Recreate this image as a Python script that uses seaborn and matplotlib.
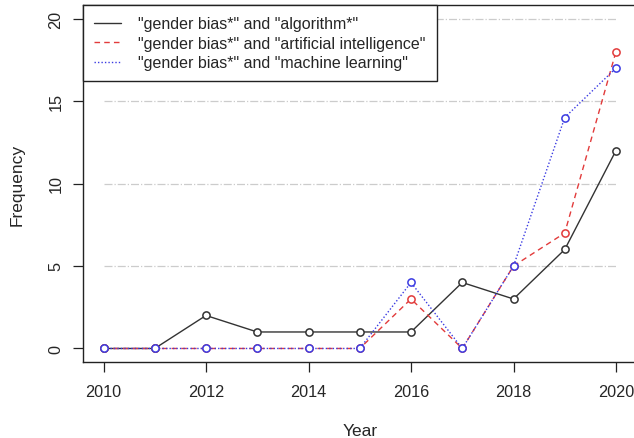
import matplotlib
matplotlib.use("Agg")
import matplotlib.pyplot as plt
from matplotlib.lines import Line2D
import seaborn as sns
import pandas as pd

years = [2010, 2011, 2012, 2013, 2014, 2015, 2016, 2017, 2018, 2019, 2020]
algorithm = [0, 0, 2, 1, 1, 1, 1, 4, 3, 6, 12]
artificial_intelligence = [0, 0, 0, 0, 0, 0, 3, 0, 5, 7, 18]
machine_learning = [0, 0, 0, 0, 0, 0, 4, 0, 5, 14, 17]
labels = ['"gender bias*" and "algorithm*"',
          '"gender bias*" and "artificial intelligence"',
          '"gender bias*" and "machine learning"']
grid_levels = [5, 10, 15, 20]
x_ticks = [2010, 2012, 2014, 2016, 2018, 2020]
y_ticks = [0, 5, 10, 15, 20]

sns.set_style("white")
plt.rcParams['font.family'] = ['Liberation Sans', 'DejaVu Sans']

fig = plt.figure(figsize=(6.34, 4.39), dpi=100)
ax = fig.add_axes([83/634, 1-363/439, (636.5-83)/634, (363-6)/439])

ax.hlines(grid_levels, 2010, 2020, colors='#cccccc', linestyles='dashdot', linewidth=0.9, zorder=0)

series = [algorithm, artificial_intelligence, machine_learning]
colors = ['#333333', '#e23b3b', '#3b3be2']
styles = ['-', (0, (4, 3)), (0, (1, 1.5))]
for vals, col, ls in zip(series, colors, styles):
    df = pd.DataFrame({"Year": years, "Frequency": vals})
    sns.lineplot(data=df, x="Year", y="Frequency", ax=ax, color=col, linestyle=ls,
                 linewidth=1.0, marker='o', markersize=5.2, markerfacecolor='white',
                 markeredgecolor=col, markeredgewidth=1.1, legend=False)

ax.set_xlim(2009.6, 2020.4)
ax.set_ylim(-0.82, 20.82)
ax.set_xticks(x_ticks)
ax.set_yticks(y_ticks)
ax.set_yticklabels([str(v) for v in y_ticks], rotation=90, va='center')
ax.tick_params(axis='both', direction='out', length=7, width=0.9, color='#222222',
               labelsize=11.7, left=True, bottom=True)
ax.tick_params(axis='x', pad=9)
ax.tick_params(axis='y', pad=7)
ax.set_xlabel("Year", fontsize=12.5, labelpad=17)
ax.set_ylabel("Frequency", fontsize=12.5, labelpad=17)
for s in ax.spines.values():
    s.set_color('#222222')
    s.set_linewidth(1.0)

handles = [Line2D([], [], color=c, linestyle=l, linewidth=1.0) for c, l in zip(colors, styles)]
leg = ax.legend(handles, labels, loc='upper left', bbox_to_anchor=(0.0, 1.0),
                fontsize=11.5, frameon=True, fancybox=False, framealpha=1,
                edgecolor='#222222', borderpad=0.7, handlelength=1.65, labelspacing=0.28,
                handletextpad=1.1, borderaxespad=0)
leg.get_frame().set_linewidth(1.0)

fig.savefig("out.png", dpi=100)
